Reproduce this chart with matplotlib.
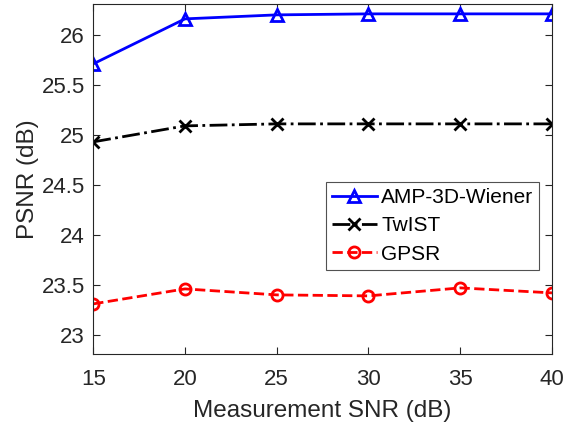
import matplotlib
matplotlib.use("Agg")
import matplotlib.pyplot as plt

plt.rcParams['font.family'] = ['Liberation Sans', 'DejaVu Sans']

snr = [15, 20, 25, 30, 35, 40]
amp = [25.71, 26.16, 26.20, 26.21, 26.21, 26.21]
twist = [24.93, 25.09, 25.11, 25.11, 25.11, 25.11]
gpsr = [23.31, 23.46, 23.40, 23.39, 23.47, 23.42]
xticks = [15, 20, 25, 30, 35, 40]
yticks = [23, 23.5, 24, 24.5, 25, 25.5, 26]
ylabels = ['23', '23.5', '24', '24.5', '25', '25.5', '26']

fig = plt.figure(figsize=(5.65, 4.3), dpi=100)
ax = fig.add_axes([0.165, 0.177, 0.812, 0.814])

ax.plot(snr, amp, '-', color='#0000ff', lw=2, marker='^', ms=9, mfc='none', mew=2, label='AMP-3D-Wiener')
ax.plot(snr, twist, '-.', color='black', lw=2, marker='x', ms=8, mew=2, label='TwIST')
ax.plot(snr, gpsr, '--', color='#ff0000', lw=2, marker='o', ms=8, mfc='none', mew=2, label='GPSR')

ax.set_xlim(15, 40)
ax.set_ylim(22.81, 26.31)
ax.set_xticks(xticks)
ax.set_yticks(yticks)
ax.set_yticklabels(ylabels)
gray = '#262626'
ax.tick_params(direction='in', top=True, right=True, labelsize=16, colors=gray, length=5)
ax.tick_params(axis='x', pad=11)
ax.tick_params(axis='y', pad=6)
for s in ax.spines.values():
    s.set_color(gray)
    s.set_linewidth(0.8)
ax.set_xlabel('Measurement SNR (dB)', fontsize=17.5, color=gray, labelpad=7)
ax.set_ylabel('PSNR (dB)', fontsize=17.5, color=gray, labelpad=2)

leg = ax.legend(loc='upper left', bbox_to_anchor=(0.507, 0.492), fontsize=15,
                frameon=True, fancybox=False, edgecolor=gray, borderpad=0.3,
                handlelength=2.15, handletextpad=0.2, labelspacing=0.45, borderaxespad=0)
leg.get_frame().set_linewidth(0.8)

fig.savefig('out.png', dpi=100)
